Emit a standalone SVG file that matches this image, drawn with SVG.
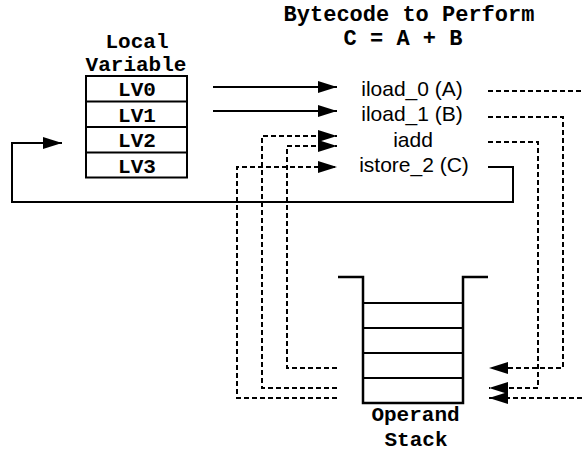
<svg xmlns="http://www.w3.org/2000/svg" width="582" height="453" viewBox="0 0 582 453">
  <style>
    .mono { font-family: "Liberation Mono", "Courier New", monospace; font-weight: bold; fill: #000; text-anchor: middle; }
    .sans { font-family: "Liberation Sans", Arial, sans-serif; fill: #000; text-anchor: middle; font-size: 21px; }
    .solid { fill: none; stroke: #000; stroke-width: 2; }
    .dash { fill: none; stroke: #000; stroke-width: 2; stroke-dasharray: 5 3; }
    .box { fill: #fff; stroke: #000; stroke-width: 2; }
    .wall { fill: none; stroke: #000; stroke-width: 2.5; }
    .row { stroke: #000; stroke-width: 2; }
  </style>
  <defs>
    <marker id="arrow" markerUnits="userSpaceOnUse" markerWidth="20" markerHeight="12" refX="19" refY="6" orient="auto" overflow="visible">
      <path d="M0,0 L19,6 L0,12 Z" fill="#000"/>
    </marker>
  </defs>
  <rect width="582" height="453" fill="#fff"/>

  <g id="title">
    <text class="mono" x="409" y="21" font-size="22">Bytecode to Perform</text>
    <text class="mono" x="403" y="45" font-size="22">C = A + B</text>
  </g>

  <g id="local-variable">
    <text class="mono" x="137" y="48" font-size="21">Local</text>
    <text class="mono" x="136" y="71" font-size="21">Variable</text>
    <rect class="box" x="86" y="76" width="101" height="101.5"/>
    <line class="row" x1="86" y1="101.5" x2="187" y2="101.5"/>
    <line class="row" x1="86" y1="127" x2="187" y2="127"/>
    <line class="row" x1="86" y1="152.5" x2="187" y2="152.5"/>
    <text class="mono" x="137" y="96" font-size="21">LV0</text>
    <text class="mono" x="137" y="121.5" font-size="21">LV1</text>
    <text class="mono" x="137" y="147" font-size="21">LV2</text>
    <text class="mono" x="137" y="172.5" font-size="21">LV3</text>
  </g>

  <g id="bytecode">
    <text class="sans" x="412" y="95.5">iload_0 (A)</text>
    <text class="sans" x="412" y="121">iload_1 (B)</text>
    <text class="sans" x="413" y="146.5">iadd</text>
    <text class="sans" x="414" y="172">istore_2 (C)</text>
  </g>

  <g id="operand-stack">
    <path class="wall" d="M338,277 H363 V403 H463 V277 H488"/>
    <line class="row" x1="363" y1="303" x2="463" y2="303"/>
    <line class="row" x1="363" y1="328" x2="463" y2="328"/>
    <line class="row" x1="363" y1="353" x2="463" y2="353"/>
    <line class="row" x1="363" y1="378" x2="463" y2="378"/>
    <text class="mono" x="415.5" y="421" font-size="21">Operand</text>
    <text class="mono" x="416" y="446" font-size="21">Stack</text>
  </g>

  <g id="connectors">
    <path class="solid" d="M213,87 H337" marker-end="url(#arrow)"/>
    <path class="solid" d="M213,111 H337" marker-end="url(#arrow)"/>
    <path class="solid" d="M488,167 H513 V202 H12 V143 H62" marker-end="url(#arrow)"/>
    <path class="dash" d="M488,91 H582"/>
    <path class="dash" d="M582,398 H489" marker-end="url(#arrow)"/>
    <path class="dash" d="M488,117 H563 V368 H489" marker-end="url(#arrow)"/>
    <path class="dash" d="M488,142 H538 V388 H489" marker-end="url(#arrow)"/>
    <path class="dash" d="M337,388 H262 V136 H337" marker-end="url(#arrow)"/>
    <path class="dash" d="M337,368 H287 V146 H337" marker-end="url(#arrow)"/>
    <path class="dash" d="M337,398 H237 V167 H337" marker-end="url(#arrow)"/>
  </g>
</svg>
